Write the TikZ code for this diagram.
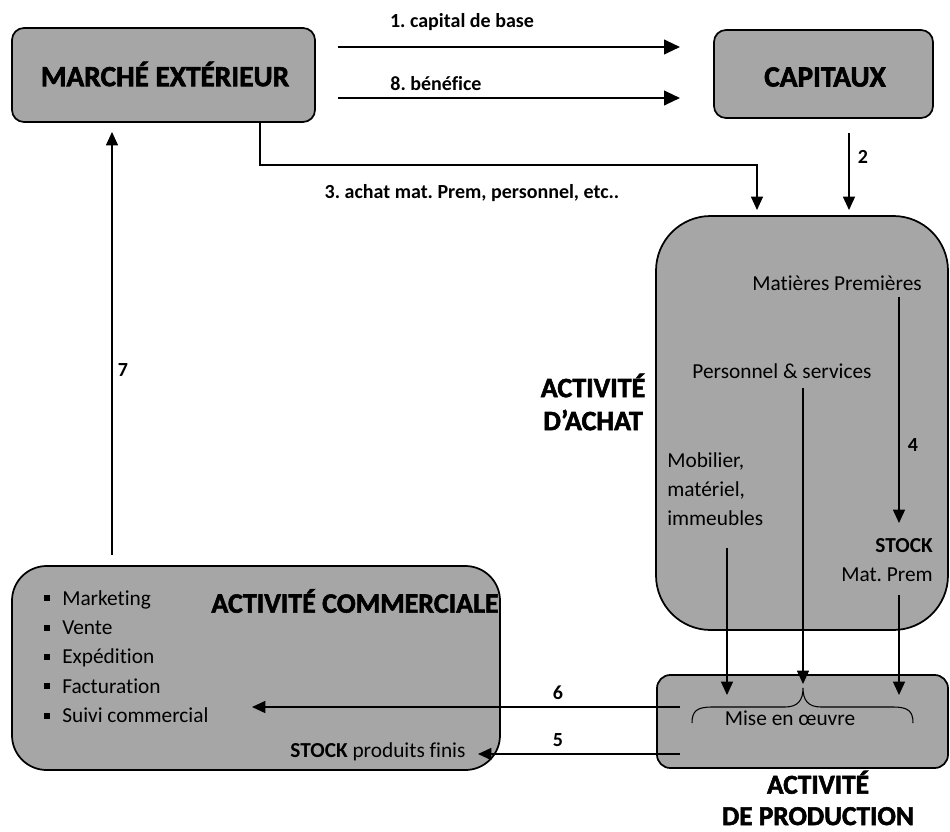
\documentclass[tikz,border=0pt]{standalone}
\usepackage{fontspec}
\setmainfont{Carlito}[Ligatures=NoCommon]
\newfontfamily\headfont[FakeBold=2,Ligatures=NoCommon]{Carlito Bold}
\usetikzlibrary{arrows.meta}
\definecolor{boxgray}{HTML}{A6A6A6}
\frenchspacing
\begin{document}
\begin{tikzpicture}[x=0.75pt,y=-0.75pt,
  box/.style={draw=black, line width=1.3pt, fill=boxgray, inner sep=0pt},
  head/.style={font=\headfont\fontsize{21}{24}\selectfont, inner sep=0pt},
  lbl/.style={font=\bfseries\fontsize{15}{18}\selectfont, inner sep=0pt},
  txt/.style={font=\fontsize{16}{21.75}\selectfont, inner sep=0pt},
  arr/.style={-{Triangle[length=10pt,width=9pt]}, line width=1pt},
  thinarr/.style={-{Triangle[length=10pt,width=9pt]}, line width=0.8pt},
  bigarr/.style={-{Triangle[length=12pt,width=11pt]}, line width=1.5pt}]
\useasboundingbox (0,0) rectangle (950,832);

% boxes
\node[box, rounded corners=9pt, minimum width=303*0.75pt, minimum height=94*0.75pt] (marche) at (163.5,75) {};
\node[box, rounded corners=9pt, minimum width=219*0.75pt, minimum height=88*0.75pt] (capitaux) at (823.5,74) {};
\node[box, rounded corners=41pt, minimum width=292*0.75pt, minimum height=414*0.75pt] (achat) at (802,423) {};
\node[box, rounded corners=10pt, minimum width=291*0.75pt, minimum height=93*0.75pt] (prod) at (802.5,721.5) {};
\node[box, rounded corners=26pt, minimum width=488*0.75pt, minimum height=204*0.75pt] (comm) at (256,668) {};

% headings
\node[head, font=\headfont\fontsize{22}{24}\selectfont] (marchet) at (165,74) {MARCHÉ EXTÉRIEUR};
\node[head, font=\headfont\fontsize{22}{24}\selectfont] (capitauxt) at (825,77) {CAPITAUX};
\node[head, align=center, font=\headfont\fontsize{21}{24.75}\selectfont] (achath) at (593,402) {ACTIVITÉ\\D’ACHAT};
\node[head, align=center, font=\headfont\fontsize{20.5}{23.5}\selectfont] (prodh) at (818,798) {ACTIVITÉ\\DE PRODUCTION};
\node[head] (commh) at (355,601) {ACTIVITÉ COMMERCIALE};

% texts in achat
\node[txt] (mp) at (837,283) {Matières Premières};
\node[txt] (ps) at (782,371) {Personnel \& services};
\node[txt, align=left, anchor=north west] (mob) at (667,452) {Mobilier,\\matériel,\\immeubles};
\node[txt, align=right, anchor=north east] (stock) at (933,538) {\textbf{STOCK}\\Mat. Prem};

% production
\node[txt] (mise) at (790,718) {Mise en œuvre};
\draw[line width=0.8pt] (692,723) .. controls (692,711) and (697,707) .. (712,707) -- (785,707) .. controls (798,707) and (803,700) .. (803,688) .. controls (803,700) and (808,707) .. (821,707) -- (893,707) .. controls (908,707) and (913,711) .. (913,723);

% commercial
\node[txt, align=left, anchor=north west, font=\fontsize{16}{22}\selectfont] (list) at (44,590) {%
\rule[0.18em]{4.5pt}{4.5pt}\hspace{9pt}Marketing\\
\rule[0.18em]{4.5pt}{4.5pt}\hspace{9pt}Vente\\
\rule[0.18em]{4.5pt}{4.5pt}\hspace{9pt}Expédition\\
\rule[0.18em]{4.5pt}{4.5pt}\hspace{9pt}Facturation\\
\rule[0.18em]{4.5pt}{4.5pt}\hspace{9pt}Suivi commercial};
\node[txt] (stockpf) at (378,752) {\textbf{STOCK} produits finis};

% coordinates
\coordinate (a1s) at (338,47);  \coordinate (a1e) at (680,47);
\coordinate (a8s) at (338,98);  \coordinate (a8e) at (680,98);
\coordinate (c3) at (260,165);  \coordinate (c3e) at (757,210);
\coordinate (a2s) at (849,133); \coordinate (a2e) at (849,210);
\coordinate (a4s) at (899,297); \coordinate (a4e) at (899,523);
\coordinate (pss) at (803,388); \coordinate (pse) at (803,684);
\coordinate (mbs) at (727,548); \coordinate (mbe) at (727,695);
\coordinate (sts) at (899,595); \coordinate (ste) at (899,695);
\coordinate (a6s) at (680,707); \coordinate (a6e) at (252,707);
\coordinate (a5s) at (680,754); \coordinate (a5e) at (478,754);
\coordinate (a7s) at (112,555); \coordinate (a7e) at (112,132);

% connectors
\draw[bigarr] (a1s) -- (a1e);
\draw[bigarr] (a8s) -- (a8e);
\draw[thinarr] (marche.south -| c3) -- (c3) -- (c3 -| c3e) -- (c3e);
\draw[arr] (a2s) -- (a2e);
\draw[arr] (a4s) -- (a4e);
\draw[arr] (pss) -- (pse);
\draw[arr] (mbs) -- (mbe);
\draw[arr] (sts) -- (ste);
\draw[arr] (a6s) -- (a6e);
\draw[arr] (a5s) -- (a5e);
\draw[thinarr] (a7s) -- (a7e);

% labels
\node[lbl] (l1) at (462,22) {1. capital de base};
\node[lbl] (l8) at (436,84) {8. bénéfice};
\node[lbl] (l3) at (472,193) {3. achat mat. Prem, personnel, etc..};
\node[lbl] (l2) at (863,157) {2};
\node[lbl] (l4) at (913,445) {4};
\node[lbl] (l6) at (558,693) {6};
\node[lbl] (l5) at (558,740) {5};
\node[lbl] (l7) at (123,370) {7};
\end{tikzpicture}
\end{document}
